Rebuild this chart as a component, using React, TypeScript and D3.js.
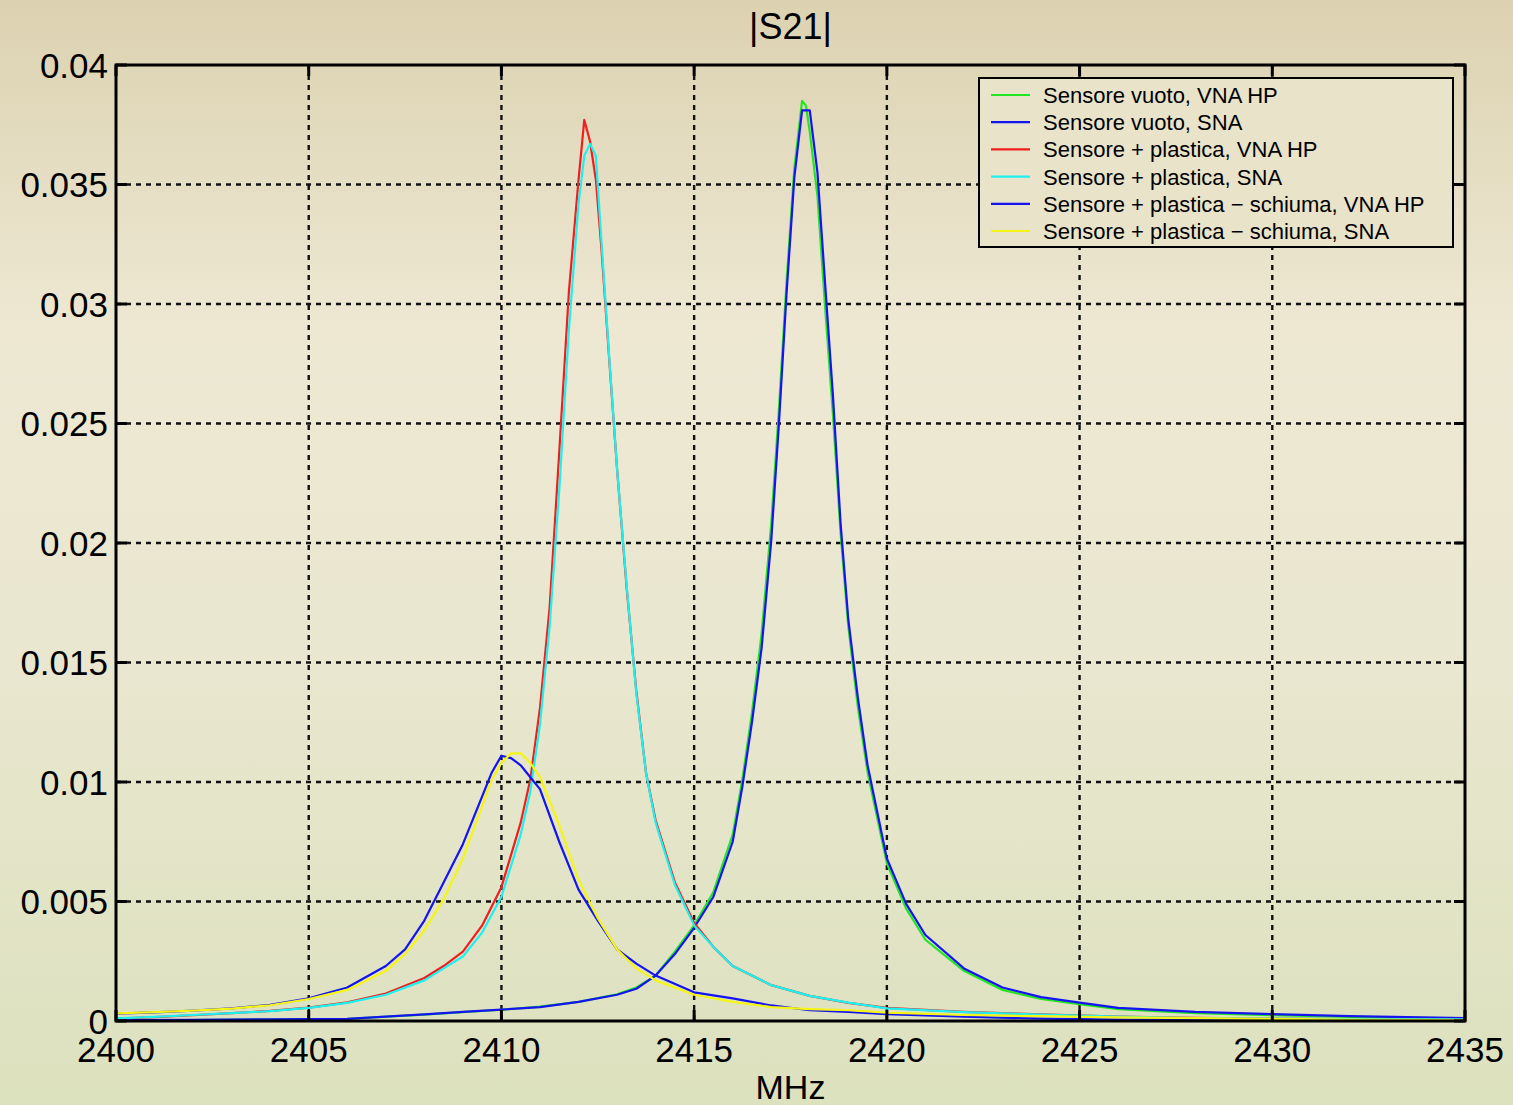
import React from "react";
import * as d3 from "d3";

// frequency axis (MHz) and y ticks
const xTicks = [2400, 2405, 2410, 2415, 2420, 2425, 2430, 2435];
const yTicks = [0, 0.005, 0.01, 0.015, 0.02, 0.025, 0.03, 0.035, 0.04];
const yTickLabels = ["0", "0.005", "0.01", "0.015", "0.02", "0.025", "0.03", "0.035", "0.04"];

const legendLabels = [
  "Sensore vuoto, VNA HP",
  "Sensore vuoto, SNA",
  "Sensore + plastica, VNA HP",
  "Sensore + plastica, SNA",
  "Sensore + plastica \u2212 schiuma, VNA HP",
  "Sensore + plastica \u2212 schiuma, SNA",
];

// sensore vuoto
const freqsVuoto = [2400, 2402, 2404, 2406, 2408, 2409, 2410, 2411, 2412, 2413, 2413.5, 2414, 2414.5, 2415, 2415.5, 2416, 2416.25, 2416.5, 2416.75, 2417, 2417.2, 2417.4, 2417.6, 2417.8, 2417.9, 2418, 2418.2, 2418.4, 2418.6, 2418.8, 2419, 2419.25, 2419.5, 2420, 2420.5, 2421, 2422, 2423, 2424, 2425, 2426, 2428, 2430, 2432, 2435];
const vuotoVNA = [0.00003, 0.00004, 0.00006, 0.00009, 0.00027, 0.00037, 0.00047, 0.0006, 0.0008, 0.00112, 0.0014, 0.0019, 0.0029, 0.004, 0.0054, 0.0078, 0.0101, 0.0129, 0.0162, 0.0208, 0.0256, 0.031, 0.0357, 0.0385, 0.0383, 0.0372, 0.0345, 0.0298, 0.0254, 0.0204, 0.0165, 0.0131, 0.0104, 0.0066, 0.0047, 0.0034, 0.0021, 0.0013, 0.00092, 0.0007, 0.0005, 0.00033, 0.00024, 0.00017, 0.0001];
const vuotoSNA = [0.00004, 0.00005, 0.00007, 0.00009, 0.00028, 0.00038, 0.00048, 0.00058, 0.0008, 0.0011, 0.00135, 0.0019, 0.0028, 0.0039, 0.0052, 0.0075, 0.0098, 0.0125, 0.0156, 0.0201, 0.025, 0.0305, 0.0353, 0.0381, 0.0381, 0.0381, 0.0355, 0.0308, 0.0262, 0.0208, 0.0168, 0.0135, 0.0107, 0.0068, 0.0049, 0.0036, 0.0022, 0.0014, 0.001, 0.00077, 0.00055, 0.00038, 0.00029, 0.0002, 0.00012];

// sensore + plastica
const freqsPlastica = [2400, 2401, 2402, 2403, 2404, 2405, 2406, 2407, 2408, 2408.5, 2409, 2409.5, 2410, 2410.5, 2410.75, 2411, 2411.25, 2411.5, 2411.75, 2412, 2412.15, 2412.3, 2412.45, 2412.6, 2412.8, 2413, 2413.25, 2413.5, 2413.75, 2414, 2414.5, 2415, 2415.5, 2416, 2417, 2418, 2419, 2420, 2422, 2424, 2426, 2428, 2430, 2432, 2435];
const plasticaVNA = [0.0001, 0.00016, 0.00024, 0.00033, 0.00042, 0.00056, 0.00078, 0.00115, 0.0018, 0.0023, 0.0029, 0.004, 0.0056, 0.0083, 0.0101, 0.0131, 0.0173, 0.0238, 0.0305, 0.0352, 0.0377, 0.0368, 0.0352, 0.0322, 0.0276, 0.0231, 0.0181, 0.0138, 0.0104, 0.0084, 0.0058, 0.0041, 0.0031, 0.0023, 0.0015, 0.00105, 0.00076, 0.00055, 0.00038, 0.00028, 0.00018, 0.00013, 0.0001, 0.00008, 0.00006];
const plasticaSNA = [0.00011, 0.00017, 0.00025, 0.00033, 0.00041, 0.00055, 0.00076, 0.0011, 0.0017, 0.0022, 0.0027, 0.0037, 0.0052, 0.0078, 0.0096, 0.0124, 0.0165, 0.0222, 0.0289, 0.0342, 0.0362, 0.0367, 0.0362, 0.0325, 0.0277, 0.0231, 0.0182, 0.0137, 0.0104, 0.0083, 0.0057, 0.004, 0.0031, 0.0023, 0.0015, 0.00105, 0.00077, 0.00053, 0.00037, 0.00027, 0.00018, 0.00012, 0.0001, 0.00008, 0.00007];

// sensore + plastica - schiuma
const freqsSchiuma = [2400, 2401, 2402, 2403, 2404, 2405, 2406, 2407, 2407.5, 2408, 2408.5, 2409, 2409.5, 2409.75, 2410, 2410.25, 2410.5, 2410.75, 2411, 2411.5, 2412, 2412.5, 2413, 2413.5, 2414, 2415, 2416, 2417, 2418, 2419, 2420, 2422, 2424, 2426, 2428, 2430, 2432, 2435];
const schiumaVNA = [0.00031, 0.00036, 0.00043, 0.00053, 0.00068, 0.00095, 0.0014, 0.0023, 0.003, 0.0042, 0.0058, 0.0074, 0.0094, 0.0104, 0.0111, 0.011, 0.0107, 0.0102, 0.0097, 0.0075, 0.0055, 0.0042, 0.003, 0.0024, 0.0019, 0.0012, 0.00095, 0.00065, 0.00045, 0.00038, 0.00029, 0.00018, 0.0001, 0.00006, 0.00004, 0.00003, 0.00002, 0.00001];
const schiumaSNA = [0.00032, 0.00037, 0.00043, 0.00052, 0.00066, 0.00092, 0.0013, 0.0021, 0.0028, 0.0038, 0.0051, 0.0068, 0.009, 0.0101, 0.0108, 0.0112, 0.0112, 0.0108, 0.0102, 0.0082, 0.0059, 0.0043, 0.003, 0.0022, 0.0017, 0.0011, 0.0008, 0.00058, 0.0005, 0.00045, 0.00035, 0.00025, 0.0002, 0.00015, 0.00012, 0.00009, 0.00006, 0.00004];

const seriesColors = ["#22e622", "#1414f0", "#f01e1e", "#1ef0f0", "#1414f0", "#f5f514"];

export default function App() {
  const ref = React.useRef<SVGSVGElement>(null);

  React.useEffect(() => {
    document.body.style.margin = "0";
    drawChart();
  }, []);

  function drawChart() {
    const width = 1513;
    const height = 1105;
    const margin = { top: 65, right: 48, bottom: 84, left: 116 };
    const font = "'Liberation Sans', Arial, Helvetica, sans-serif";

    const svg = d3.select(ref.current);
    svg.selectAll("*").remove();
    svg.attr("width", width).attr("height", height);

    const defs = svg.append("defs");
    const grad = defs
      .append("linearGradient")
      .attr("id", "bgGrad")
      .attr("gradientUnits", "userSpaceOnUse")
      .attr("x1", 0)
      .attr("y1", 0)
      .attr("x2", 0)
      .attr("y2", height);
    grad.append("stop").attr("offset", "0").attr("stop-color", "#dcd2b1");
    grad.append("stop").attr("offset", "0.3").attr("stop-color", "#eee8d3");
    grad.append("stop").attr("offset", "0.6").attr("stop-color", "#e9e7cf");
    grad.append("stop").attr("offset", "1").attr("stop-color", "#dce1be");

    svg.append("rect").attr("width", width).attr("height", height).attr("fill", "url(#bgGrad)");

    const x = d3
      .scaleLinear()
      .domain([2400, 2435])
      .range([margin.left, width - margin.right]);
    const y = d3
      .scaleLinear()
      .domain([0, 0.04])
      .range([height - margin.bottom, margin.top]);

    const x0 = x.range()[0], x1 = x.range()[1];
    const yB = y.range()[0], yT = y.range()[1];

    // dotted grid
    const grid = svg.append("g").attr("stroke", "#111").attr("stroke-width", 2.4).attr("stroke-dasharray", "5,5");
    xTicks.slice(1, -1).forEach((t) => {
      grid.append("line").attr("x1", x(t)).attr("x2", x(t)).attr("y1", yT).attr("y2", yB);
    });
    yTicks.slice(1, -1).forEach((t) => {
      grid.append("line").attr("x1", x0).attr("x2", x1).attr("y1", y(t)).attr("y2", y(t));
    });

    // curves
    const series = [
      { f: freqsVuoto, v: vuotoVNA },
      { f: freqsVuoto, v: vuotoSNA },
      { f: freqsPlastica, v: plasticaVNA },
      { f: freqsPlastica, v: plasticaSNA },
      { f: freqsSchiuma, v: schiumaVNA },
      { f: freqsSchiuma, v: schiumaSNA },
    ];
    const line = d3
      .line<[number, number]>()
      .x((d) => x(d[0]))
      .y((d) => y(d[1]));
    series.forEach((s, i) => {
      svg
        .append("path")
        .attr("d", line(s.f.map((f, j) => [f, s.v[j]] as [number, number])))
        .attr("fill", "none")
        .attr("stroke", seriesColors[i])
        .attr("stroke-width", 2.2)
        .attr("stroke-linejoin", "round");
    });

    // axes box and inward ticks
    const ax = svg.append("g").attr("stroke", "#000").attr("stroke-width", 3);
    xTicks.forEach((t) => {
      ax.append("line").attr("x1", x(t)).attr("x2", x(t)).attr("y1", yB).attr("y2", yB - 11);
      ax.append("line").attr("x1", x(t)).attr("x2", x(t)).attr("y1", yT).attr("y2", yT + 11);
    });
    yTicks.forEach((t) => {
      ax.append("line").attr("x1", x0).attr("x2", x0 + 11).attr("y1", y(t)).attr("y2", y(t));
      ax.append("line").attr("x1", x1).attr("x2", x1 - 11).attr("y1", y(t)).attr("y2", y(t));
    });
    svg
      .append("rect")
      .attr("x", x0)
      .attr("y", yT)
      .attr("width", x1 - x0)
      .attr("height", yB - yT)
      .attr("fill", "none")
      .attr("stroke", "#000")
      .attr("stroke-width", 3);

    // tick labels
    svg
      .selectAll("text.xt")
      .data(xTicks)
      .enter()
      .append("text")
      .attr("x", (d) => x(d))
      .attr("y", yB + 41)
      .attr("text-anchor", "middle")
      .attr("font-family", font)
      .attr("font-size", 35)
      .attr("fill", "#000")
      .text((d) => String(d));
    svg
      .selectAll("text.yt")
      .data(yTicks)
      .enter()
      .append("text")
      .attr("x", x0 - 8)
      .attr("y", (d) => y(d))
      .attr("dy", "0.36em")
      .attr("text-anchor", "end")
      .attr("font-family", font)
      .attr("font-size", 35)
      .attr("fill", "#000")
      .text((d, i) => yTickLabels[i]);

    // title and x label
    svg
      .append("text")
      .attr("x", (x0 + x1) / 2)
      .attr("y", 39)
      .attr("text-anchor", "middle")
      .attr("font-family", font)
      .attr("font-size", 36)
      .text("|S21|");
    svg
      .append("text")
      .attr("x", (x0 + x1) / 2)
      .attr("y", 1099)
      .attr("text-anchor", "middle")
      .attr("font-family", font)
      .attr("font-size", 34)
      .text("MHz");

    // legend
    const lg = svg.append("g").attr("transform", "translate(979,78)");
    lg.append("rect")
      .attr("x", 0)
      .attr("y", 0)
      .attr("width", 474)
      .attr("height", 169)
      .attr("fill", "#e9e3ca")
      .attr("stroke", "#000")
      .attr("stroke-width", 2);
    legendLabels.forEach((label, i) => {
      const ly = 17 + i * 27.2;
      lg.append("line")
        .attr("x1", 12)
        .attr("x2", 51)
        .attr("y1", ly)
        .attr("y2", ly)
        .attr("stroke", seriesColors[i])
        .attr("stroke-width", 2.2);
      lg.append("text")
        .attr("x", 64)
        .attr("y", ly)
        .attr("dy", "0.36em")
        .attr("font-family", font)
        .attr("font-size", 22)
        .attr("fill", "#000")
        .text(label);
    });
  }

  return <svg ref={ref} style={{ position: "absolute", left: 0, top: 0 }} />;
}
